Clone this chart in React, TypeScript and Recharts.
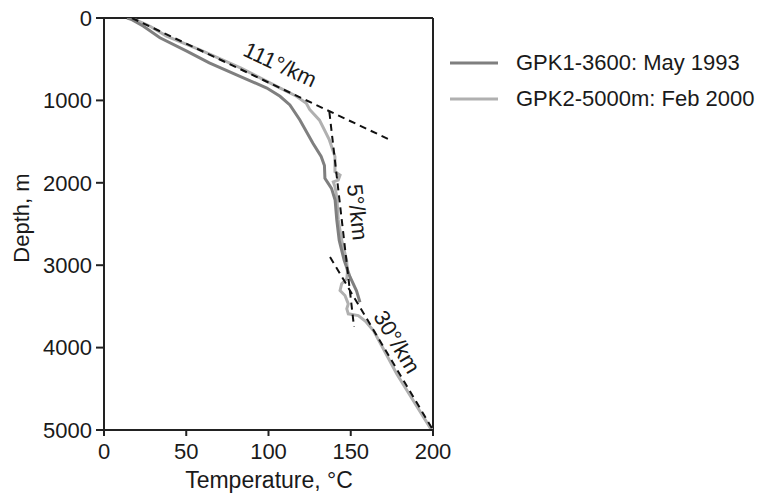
import React from 'react';
import {
  LineChart,
  Line,
  XAxis,
  YAxis,
  ReferenceLine,
  ReferenceDot,
  Legend,
} from 'recharts';

// GPK1-3600 (May 1993), temperature in °C vs depth in m
const gpk1Temp = [14, 17, 24, 34, 50, 64, 83, 99, 107, 113, 119, 127, 132, 134, 134.3, 136.3, 138.3, 140.5, 141.5, 143, 146, 149.5, 153.5, 155.6];
const gpk1Depth = [0, 20, 100, 240, 400, 545, 710, 850, 950, 1055, 1235, 1520, 1680, 1790, 1946, 2007, 2068, 2210, 2450, 2700, 2940, 3140, 3310, 3450];

// GPK2-5000m (Feb 2000)
const gpk2Temp = [15, 20, 28, 38, 58, 83, 105, 117, 123, 125, 131, 137, 140.4, 140.4, 143.5, 142.4, 139.4, 140.4, 141.5, 142.4, 144.5, 147.5, 148, 147.6, 144.5, 143.5, 146.5, 148.5, 147.6, 148.5, 154.6, 159, 164, 178, 198.5, 200];
const gpk2Depth = [0, 30, 100, 220, 385, 605, 830, 950, 1035, 1110, 1240, 1480, 1680, 1866, 1906, 1967, 1988, 2048, 2170, 2450, 2700, 2940, 3080, 3165, 3225, 3307, 3368, 3470, 3530, 3590, 3611, 3680, 3800, 4320, 4980, 5000];

// gradient guide lines
const grad111Temp = [17, 174];
const grad111Depth = [0, 1480];
const grad5Temp = [137, 152];
const grad5Depth = [1140, 3750];
const grad30Temp = [137.4, 200];
const grad30Depth = [2900, 5000];

const gradLabels = ['111°/km', '5°/km', '30°/km'];
const gradLabelTemp = [107, 154, 178];
const gradLabelDepth = [565, 2357, 3930];
const gradLabelAngle = [25, 84, 59];

const xTicks = [0, 50, 100, 150, 200];
const yTicks = [0, 1000, 2000, 3000, 4000, 5000];

const seriesNames = ['GPK1-3600: May 1993', 'GPK2-5000m: Feb 2000'];
const seriesColors = ['#7f7f7f', '#b0b0b0'];

const toPoints = (temps: number[], depths: number[]) =>
  temps.map((t, i) => ({ t, d: depths[i] }));

const gpk1 = toPoints(gpk1Temp, gpk1Depth);
const gpk2 = toPoints(gpk2Temp, gpk2Depth);
const grad111 = toPoints(grad111Temp, grad111Depth);
const grad5 = toPoints(grad5Temp, grad5Depth);
const grad30 = toPoints(grad30Temp, grad30Depth);

const FONT = '"Liberation Sans", Arial, Helvetica, sans-serif';
const AXIS = '#222';
const TEXT = '#1a1a1a';
const FS = 22;

const LegendBox = () => (
  <div style={{ fontFamily: FONT, fontSize: FS, color: TEXT }}>
    {seriesNames.map((name, i) => (
      <div key={name} style={{ display: 'flex', alignItems: 'center', height: 36 }}>
        <svg width={66} height={10}>
          <line x1={0} y1={5} x2={48} y2={5} stroke={seriesColors[i]} strokeWidth={3} />
        </svg>
        <span style={{ whiteSpace: 'nowrap' }}>{name}</span>
      </div>
    ))}
  </div>
);

const GradText = ({ cx, cy, text, angle }: any) => (
  <text
    x={cx}
    y={cy}
    transform={`rotate(${angle} ${cx} ${cy})`}
    textAnchor="middle"
    dominantBaseline="central"
    fontFamily={FONT}
    fontSize={22}
    fill={TEXT}
  >
    {text}
  </text>
);

export default function App() {
  return (
    <div style={{ position: 'absolute', left: 0, top: 0, background: '#fff' }}>
      <LineChart
        width={776}
        height={494}
        margin={{ top: 18, right: 343, left: 0, bottom: 0 }}
      >
        <XAxis
          dataKey="t"
          type="number"
          domain={[0, 200]}
          ticks={xTicks}
          allowDataOverflow
          height={64}
          tickSize={6}
          tickMargin={7}
          stroke={AXIS}
          strokeWidth={2}
          tick={{ fill: TEXT, fontSize: FS, fontFamily: FONT }}
          label={{
            content: () => (
              <text x={269} y={488} textAnchor="middle" fontFamily={FONT} fontSize={23} fill={TEXT}>
                Temperature, °C
              </text>
            ),
          }}
        />
        <YAxis
          type="number"
          reversed
          domain={[0, 5000]}
          ticks={yTicks}
          allowDataOverflow
          width={104}
          tickSize={8}
          tickMargin={4}
          stroke={AXIS}
          strokeWidth={2}
          tick={{ fill: TEXT, fontSize: FS, fontFamily: FONT }}
          label={{
            content: () => (
              <text
                x={21}
                y={218}
                transform="rotate(-90 21 218)"
                textAnchor="middle"
                dominantBaseline="central"
                fontFamily={FONT}
                fontSize={22}
                fill={TEXT}
              >
                Depth, m
              </text>
            ),
          }}
        />
        {/* top and right frame */}
        <ReferenceLine y={0} stroke={AXIS} strokeWidth={2} />
        <ReferenceLine x={200} stroke={AXIS} strokeWidth={2} />

        <Line data={gpk2} dataKey="d" name={seriesNames[1]} stroke={seriesColors[1]} strokeWidth={3} dot={false} type="linear" isAnimationActive={false} />
        <Line data={gpk1} dataKey="d" name={seriesNames[0]} stroke={seriesColors[0]} strokeWidth={3} dot={false} type="linear" isAnimationActive={false} />

        <Line data={grad111} dataKey="d" stroke="#111" strokeWidth={2} strokeDasharray="7 5" dot={false} legendType="none" isAnimationActive={false} />
        <Line data={grad5} dataKey="d" stroke="#111" strokeWidth={2} strokeDasharray="7 5" dot={false} legendType="none" isAnimationActive={false} />
        <Line data={grad30} dataKey="d" stroke="#111" strokeWidth={2} strokeDasharray="7 5" dot={false} legendType="none" isAnimationActive={false} />

        {gradLabels.map((txt, i) => (
          <ReferenceDot
            key={txt}
            x={gradLabelTemp[i]}
            y={gradLabelDepth[i]}
            r={1}
            shape={(p: any) => <GradText cx={p.cx} cy={p.cy} text={txt} angle={gradLabelAngle[i]} />}
          />
        ))}

        <Legend
          layout="vertical"
          align="center"
          verticalAlign="middle"
          wrapperStyle={{ left: 450, top: 45, width: 326 }}
          content={() => <LegendBox />}
        />
      </LineChart>
    </div>
  );
}
